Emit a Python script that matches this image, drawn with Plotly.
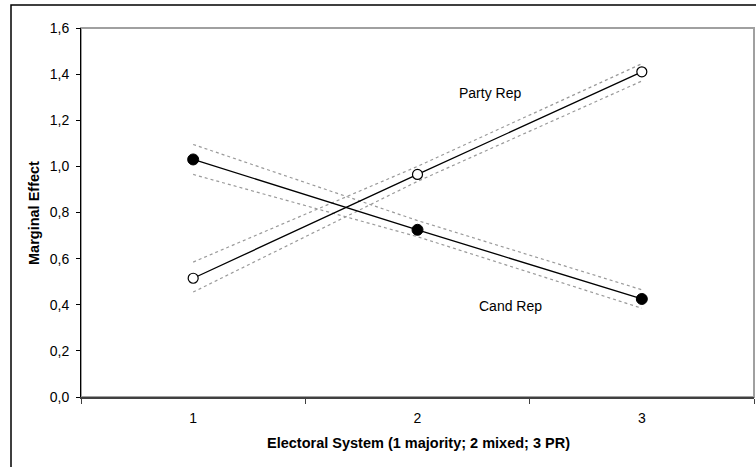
import plotly.graph_objects as go

systems = ["1", "2", "3"]
cand_rep = [1.03, 0.725, 0.425]
cand_upper = [1.095, 0.765, 0.465]
cand_lower = [0.965, 0.695, 0.385]
party_rep = [0.515, 0.965, 1.41]
party_upper = [0.585, 1.0, 1.445]
party_lower = [0.455, 0.935, 1.37]
y_ticks = [0.0, 0.2, 0.4, 0.6, 0.8, 1.0, 1.2, 1.4, 1.6]

W, H = 756, 467
L, R, T, B = 81, 2, 28, 70
pw, ph = W - L - R, H - T - B

def px2paper_x(px):
    return (px - L) / pw

def px2paper_y(py):
    return 1 - (py - T) / ph

fig = go.Figure()
band_style = dict(color="#9a9a9a", width=1.2, dash="dot")
for band in [cand_upper, cand_lower, party_upper, party_lower]:
    fig.add_trace(go.Scatter(x=systems, y=band, mode="lines", line=band_style,
                             showlegend=False, hoverinfo="skip"))

fig.add_trace(go.Scatter(x=systems, y=cand_rep, mode="lines+markers", name="Cand Rep",
                         line=dict(color="black", width=1.3),
                         marker=dict(symbol="circle", size=11, color="black",
                                     line=dict(color="black", width=1)),
                         showlegend=False))
fig.add_trace(go.Scatter(x=systems, y=party_rep, mode="lines+markers", name="Party Rep",
                         line=dict(color="black", width=1.3),
                         marker=dict(symbol="circle", size=10, color="white",
                                     line=dict(color="black", width=1.2)),
                         showlegend=False))

fam = "Liberation Sans, Arial, sans-serif"
tick_font = dict(family=fam, size=14, color="black")
label_font = dict(family=fam, size=14, color="black")
title_font = dict(family=fam, size=14.5, color="black")

fig.update_layout(
    width=W, height=H,
    margin=dict(l=L, r=R, t=T, b=B),
    paper_bgcolor="white", plot_bgcolor="white",
    separators=",.",
    font=tick_font,
    xaxis=dict(type="category", categoryorder="array", categoryarray=systems,
               range=[-0.5, 2.5], tickson="boundaries", ticks="outside", ticklen=5,
               tickcolor="#404040", showgrid=False, zeroline=False,
               showline=True, linecolor="#404040", linewidth=2,
               ticklabelstandoff=7, tickfont=tick_font),
    yaxis=dict(range=[0, 1.6], tickvals=y_ticks, tickformat=".1f", ticks="outside",
               ticklen=4, tickcolor="black", showgrid=False, zeroline=False,
               showline=True, linecolor="black", linewidth=1, tickfont=tick_font,
               ticklabelstandoff=4),
    shapes=[
        dict(type="rect", xref="paper", yref="paper", x0=0, x1=1, y0=0, y1=1,
             line=dict(color="#a0a0a0", width=2), layer="below"),
        dict(type="rect", xref="paper", yref="paper",
             x0=px2paper_x(11), x1=px2paper_x(762), y0=px2paper_y(5), y1=px2paper_y(472),
             line=dict(color="black", width=1.5)),
    ],
    annotations=[
        dict(text="Party Rep", xref="paper", yref="paper", x=px2paper_x(490), y=px2paper_y(93),
             showarrow=False, font=label_font, xanchor="center", yanchor="middle"),
        dict(text="Cand Rep", xref="paper", yref="paper", x=px2paper_x(511), y=px2paper_y(306),
             showarrow=False, font=label_font, xanchor="center", yanchor="middle"),
        dict(text="<b>Electoral System (1 majority; 2 mixed; 3 PR)</b>", xref="paper", yref="paper",
             x=px2paper_x(418), y=px2paper_y(443), showarrow=False, font=title_font,
             xanchor="center", yanchor="middle"),
        dict(text="<b>Marginal Effect</b>", xref="paper", yref="paper",
             x=px2paper_x(34), y=px2paper_y(213), showarrow=False, font=title_font, textangle=-90,
             xanchor="center", yanchor="middle"),
    ],
)

fig.write_html("out.html")
